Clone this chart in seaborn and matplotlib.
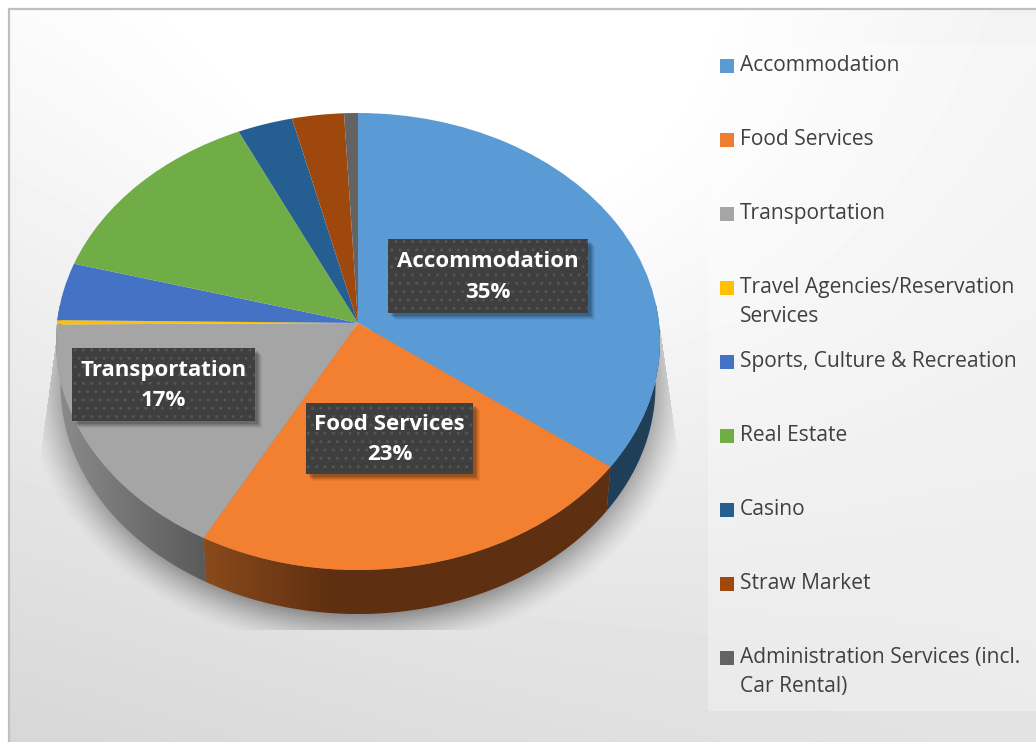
import numpy as np
import matplotlib
matplotlib.use("Agg")
import matplotlib.pyplot as plt
from matplotlib.patches import Rectangle, Polygon
from matplotlib.transforms import Transform
from matplotlib.path import Path
import seaborn as sns

categories = ["Accommodation", "Food Services", "Transportation",
              "Travel Agencies/Reservation\nServices", "Sports, Culture & Recreation",
              "Real Estate", "Casino", "Straw Market",
              "Administration Services (incl.\nCar Rental)"]
values = [35.3, 22.6, 17.0, 0.3, 4.1, 13.7, 3.2, 3.0, 0.8]
colors = ["#5B9BD5", "#F28030", "#A5A5A5", "#FFC000", "#4472C4",
          "#70AD47", "#255E91", "#9E480E", "#636363"]
legend_colors = ["#5B9BD5", "#ED7D31", "#A5A5A5", "#FFC000", "#4472C4",
                 "#70AD47", "#255E91", "#9E480E", "#636363"]
legend_y = [65, 139, 213, 287, 361, 435, 509, 583, 657]
side_shades = {0: ("#203F58", "#203F58"), 1: ("#8A4A1B", "#5E2F10"), 2: ("#8C8C8C", "#5A5A5A")}
label_boxes = {0: (388, 239, 200, 74), 1: (306, 403, 167, 71), 2: (72, 348, 183, 73)}
short_names = {0: "Accommodation", 1: "Food Services", 2: "Transportation"}

sns.set_theme(style="white")
plt.rcParams["font.family"] = ["Open Sans", "DejaVu Sans"]
W, H = 1036, 742
CX, CY, A, B, K, DEPTH = 358.0, 323.0, 301.0, 227.0, 0.081, 44.0


def project(xy):
    x, y = xy[:, 0], xy[:, 1]
    d = 1 + K * y
    return np.column_stack([CX + A * x / d, CY - B * y / d])


class Perspective(Transform):
    input_dims = output_dims = 2
    is_affine = False
    has_inverse = False

    def transform_non_affine(self, values):
        return project(np.asarray(values, float))

    def transform_path_non_affine(self, path):
        return Path(self.transform_non_affine(path.vertices), path.codes)


fig = plt.figure(figsize=(W / 100, H / 100), dpi=100)
ax = fig.add_axes([0, 0, 1, 1])
ax.set_axis_off()

# page background: corner shades plus a bright centre
yy, xx = np.mgrid[0:H, 0:W]
u, v = xx / W, yy / H
bg = ((1 - u) * (1 - v) * 0.97 + u * (1 - v) * 0.94 + (1 - u) * v * 0.84 + u * v * 0.89
      + 0.07 * np.exp(-(((xx - 500) / 420.0) ** 2 + ((yy - 130) / 380.0) ** 2)))
bg = np.clip(bg, 0, 1)
bg[:8, :] = 1
bg[:, :8] = 1
ax.imshow(bg, cmap="gray", vmin=0, vmax=1, extent=(0, W, H, 0), aspect="auto", zorder=0)
ax.plot([8.5, 8.5, W], [H, 8.5, 8.5], color="#BFBFBF", lw=1.6, zorder=1)

# soft shadow under the pie
d = np.sqrt(((xx - 358) / 335.0) ** 2 + ((yy - 383) / 268.0) ** 2)
sh_alpha = 0.42 * np.clip((1.0 - d) / 0.15, 0, 1) ** 1.4
edge_l = 57 - (yy - 330) * 19 / 140.0
edge_r = 660 + (yy - 330) * 20 / 140.0
sh_alpha[(yy < 330) | (yy > 629) | (xx < edge_l) | (xx > edge_r)] = 0
shadow = np.zeros((H, W, 4))
shadow[..., 3] = sh_alpha
ax.imshow(shadow, extent=(0, W, H, 0), aspect="auto", zorder=2)

# legend panel
ax.add_patch(Rectangle((708, 44), W - 708, 667, fc="white", alpha=0.3, ec="none", zorder=3))

# pie top
wedges, _ = ax.pie(values, colors=colors, startangle=90, counterclock=False,
                   radius=1, center=(0, 0), wedgeprops=dict(linewidth=0))
tr = Perspective() + ax.transData
for w in wedges:
    w.set_transform(tr)
    w.set_zorder(6)

# pie side walls
for i, w in enumerate(wedges):
    t = np.radians(np.linspace(w.theta1, w.theta2, 120))
    t = t[np.sin(t) <= 0.08]
    if len(t) < 2:
        continue
    top = project(np.column_stack([np.cos(t), np.sin(t)]))
    low = top + np.array([0, DEPTH])
    low[:, 0] = CX + (top[:, 0] - CX) * 0.985
    poly = np.vstack([top, low[::-1]])
    clip = Polygon(poly, closed=True, fc="none", ec="none", transform=ax.transData)
    ax.add_patch(clip)
    c0, c1 = side_shades.get(i, (colors[i], colors[i]))
    x0, xmax = poly[:, 0].min(), poly[:, 0].max()
    cmap = sns.blend_palette([c0, c1], n_colors=64, as_cmap=True)
    grad = np.linspace(0, 1, 256)[None, :]
    if i == 1:
        grad = np.clip(grad * (xmax - x0) / 130.0, 0, 1)
    im = ax.imshow(grad, cmap=cmap, vmin=0, vmax=1, aspect="auto",
                   extent=(x0, xmax, poly[:, 1].max(), poly[:, 1].min()), zorder=5)
    im.set_clip_path(clip)

# data labels
plt.rcParams["hatch.linewidth"] = 1.0
for i, (bx, by, bw, bh) in label_boxes.items():
    for off, a in [(7, 0.05), (6, 0.06), (5, 0.08), (4, 0.1), (3, 0.12)]:
        ax.add_patch(Rectangle((bx + off, by + off), bw, bh, fc="black", alpha=a, ec="none", zorder=7))
    ax.add_patch(Rectangle((bx, by), bw, bh, fc="#3F3F3F", ec="#555555", hatch="..", lw=0, zorder=8))
    ax.text(bx + bw / 2, by + bh / 2 + 1, f"{short_names[i]}\n{values[i]:.0f}%", color="white",
            fontsize=16.0, fontweight="bold", ha="center", va="center", linespacing=1.62, zorder=9)

# legend
for name, col, y in zip(categories, legend_colors, legend_y):
    ax.add_patch(Rectangle((720, y - 6), 14, 14, fc=col, ec="none", zorder=7))
    ax.text(740, y - 10, name, color="#404040", fontsize=15.1, ha="left", va="top",
            linespacing=1.5, zorder=7)

ax.set_xlim(0, W)
ax.set_ylim(H, 0)
ax.set_aspect("auto")
fig.savefig("out.png", dpi=100)
